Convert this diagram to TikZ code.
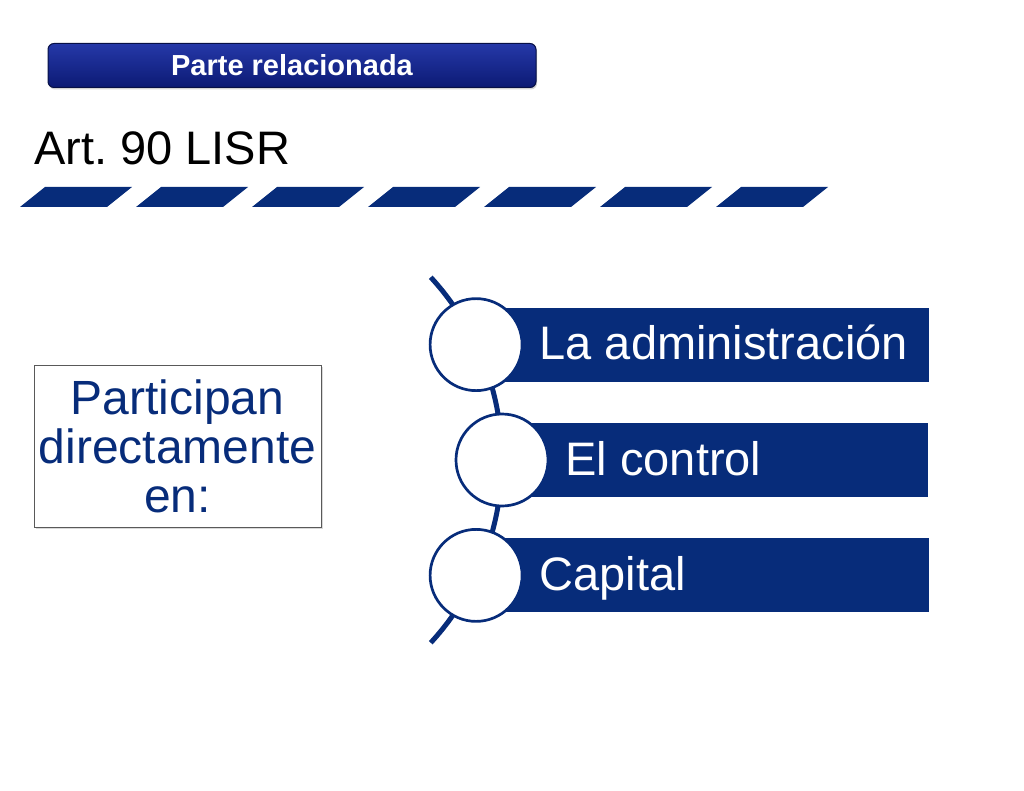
\documentclass[tikz,border=0pt]{standalone}
\usepackage{fontspec}
\setmainfont{Liberation Sans}
\usepackage{xcolor}
\usetikzlibrary{positioning,calc,shadows}
\definecolor{sblue}{HTML}{072C7A}
\definecolor{btop}{HTML}{2538A8}
\definecolor{bbot}{HTML}{0C1A74}
\frenchspacing

\begin{document}
\begin{tikzpicture}[x=1pt,y=-1pt]

\tikzset{bar/.style={fill=sblue, inner sep=0pt, minimum height=74pt, anchor=west},
ring/.style={circle, draw=sblue, line width=2.7pt, fill=white, minimum size=92pt, inner sep=0pt},
item/.style={text=white, inner sep=0pt, anchor=base west, font=\fontsize{47}{50}\selectfont},
spine/.style={draw=sblue, line width=5pt},
slab/.style={fill=sblue}}

\useasboundingbox (0,0) rectangle (1024,791);

% banner
\node[draw=bbot!60!black, line width=1pt, rounded corners=6pt, top color=btop, bottom color=bbot,
  minimum width=488pt, minimum height=44pt, inner sep=0pt,
  drop shadow={shadow xshift=1pt, shadow yshift=-2pt, opacity=0.35},
  text=white, font=\bfseries\fontsize{29}{30}\selectfont] (banner) at (292,65.5) {Parte relacionada};

\node[anchor=base west, inner sep=0pt, font=\fontsize{47}{50}\selectfont] (title) at (34,165) {Art. 90 LISR};

\foreach \i in {0,...,6}
\fill[slab] (20+116*\i,207) -- (107+116*\i,207) -- (132+116*\i,187) -- (45+116*\i,187) -- cycle;

% arc and the three steps
\coordinate (ctr) at (232,460);
\draw[spine] ($(ctr)+(-42.6:270)$) arc[start angle=-42.6, end angle=42.6, radius=270];

\coordinate (p1) at ($(ctr)+(-25.3:270)$);
\coordinate (p2) at ($(ctr)+(0:270)$);
\coordinate (p3) at ($(ctr)+(25.3:270)$);

\node[bar, minimum width=453pt] (b1) at (p1) {};
\node[bar, minimum width=426pt] (b2) at (p2) {};
\node[bar, minimum width=453pt] (b3) at (p3) {};

\node[ring] (c1) at (p1) {};
\node[ring] (c2) at (p2) {};
\node[ring] (c3) at (p3) {};

\node[item] (t1) at ([xshift=16pt,yshift=-15pt]c1.east) {La administración};
\node[item] (t2) at ([xshift=16pt,yshift=-15pt]c2.east) {El control};
\node[item] (t3) at ([xshift=16pt,yshift=-15pt]c3.east) {Capital};

\node[draw=black!65, line width=0.8pt, fill=white, minimum width=287pt, minimum height=162pt,
  drop shadow={shadow xshift=2pt, shadow yshift=-2pt, opacity=0.3},
  align=center, text=sblue, inner sep=0pt, font=\fontsize{48}{49}\selectfont] (box) at (177.5,446)
  {Participan\\directamente\\en:};

\end{tikzpicture}
\end{document}
